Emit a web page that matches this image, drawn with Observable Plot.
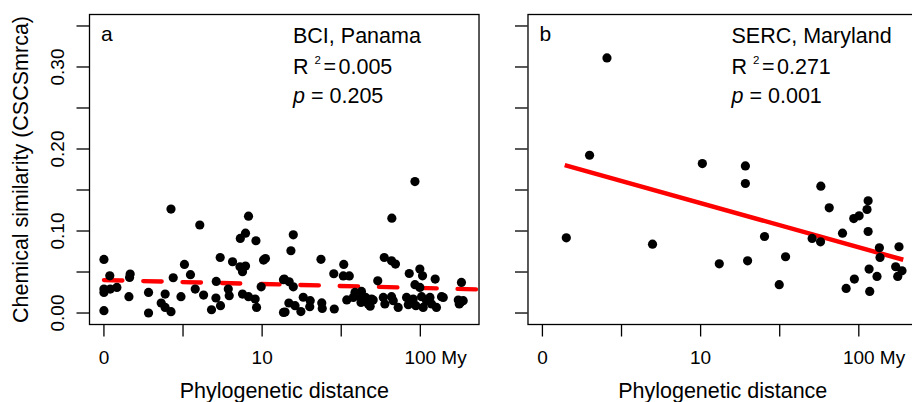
<!DOCTYPE html>
<html><head><meta charset="utf-8">
<script src="https://cdn.jsdelivr.net/npm/d3@7"></script>
<script src="https://cdn.jsdelivr.net/npm/@observablehq/plot@0.6"></script>
<style>
html,body{margin:0;padding:0;background:#fff;overflow:hidden;}
#chart{width:912px;height:402px;overflow:hidden;}
#chart svg{max-width:none !important;}
</style></head><body><div id="chart"></div>
<script>
// Panels
const panels = ["a", "b"];
const siteNames = ["BCI, Panama", "SERC, Maryland"];
const r2Labels = ["R\u00B2 = 0.005", "R\u00B2 = 0.271"];
const pLabels = ["= 0.205", "= 0.001"];

// Phylogenetic distance (log10 scale position) and chemical similarity, BCI
const bciDist = [0,0.037,0,0,0.040,0.082,0.166,0.162,0.158,0,
 0.282,0.282,0.387,0.362,0.387,0.424,0.424,0.438,0.487,0.509,
 0.547,0.577,0.630,0.606,0.710,0.708,0.680,0.737,0.735,0.792,
 0.786,0.813,0.860,0.895,0.876,0.876,0.914,0.956,0.965,0.914,
 0.895,0.862,0.961,0.994,1.021,1.009,1.135,1.135,1.197,1.182,
 1.372,1.516,1.453,1.513,1.551,1.140,1.171,1.197,1.260,1.304,
 1.169,1.208,1.145,1.245,1.301,1.377,1.380,1.456,1.535,1.587,
 1.607,1.576,1.625,1.654,1.671,1.692,1.628,1.731,1.966,1.820,
 1.772,1.818,1.843,1.930,1.997,2.014,2.094,1.966,1.997,2.260,
 1.702,1.766,1.776,1.818,1.829,1.860,1.913,1.924,1.955,1.972,
 2.008,2.018,2.039,2.061,2.071,2.102,2.134,2.145,2.240,2.254,
 2.271,2.246,1.683];
const bciSim = [0.0653,0.0454,0.0251,0.0292,0.0292,0.0312,0.0475,0.0434,0.0199,0.0028,
 0.0251,0.0000,0.0231,0.0122,0.0068,0.0016,0.1267,0.0430,0.0199,0.0592,
 0.0467,0.0292,0.0219,0.1073,0.0385,0.0183,0.0040,0.0089,0.0677,0.0211,
 0.0292,0.0625,0.0564,0.0572,0.0503,0.0231,0.0199,0.0171,0.0068,0.1181,
 0.0974,0.0909,0.0881,0.0320,0.0665,0.0646,0.0406,0.0007,0.0954,0.0759,
 0.0655,0.0592,0.0479,0.0452,0.0452,0.0414,0.0381,0.0320,0.0192,0.0150,
 0.0122,0.0089,0.0012,0.0018,0.0077,0.0123,0.0056,0.0049,0.0160,0.0251,
 0.0211,0.0190,0.0129,0.0190,0.0110,0.0171,0.0263,0.0393,0.1603,0.1157,
 0.0677,0.0637,0.0597,0.0482,0.0536,0.0454,0.0414,0.0345,0.0312,0.0373,
 0.0158,0.0190,0.0110,0.0199,0.0150,0.0068,0.0190,0.0101,0.0171,0.0089,
 0.0199,0.0068,0.0150,0.0190,0.0110,0.0068,0.0199,0.0190,0.0158,0.0129,
 0.0150,0.0110,0.0083];

// SERC
const sercDist = [0.151,0.298,0.408,0.696,1.011,1.118,1.283,1.283,1.297,1.404,
 1.497,1.537,1.705,1.758,1.760,1.813,1.897,1.920,1.972,1.968,
 2.002,2.059,2.052,2.059,2.065,2.069,2.115,2.130,2.134,2.254,
 2.233,2.246,2.273];
const sercSim = [0.0917,0.1924,0.311,0.0840,0.1822,0.0600,0.1794,0.1579,0.0637,0.0933,
 0.0345,0.0686,0.0909,0.0868,0.1547,0.1283,0.0974,0.0300,0.0414,0.1152,
 0.1185,0.1368,0.1262,0.0994,0.0536,0.0263,0.0446,0.0795,0.0677,0.0808,
 0.0564,0.0446,0.0515];

// Regression fits
const fitIntercept = [0.0402, 0.1879];
const fitSlope = [-0.00485, -0.0539];
const fitFrom = [0, 0.141];
const fitTo = [2.371, 2.281];

// Axes
const xDomain = [-0.0912, 2.371];
const yDomain = [-0.014, 0.364];
const xTicks = [0, 0.5, 1, 1.5, 2];
const xLabelPos = [0, 1, 2];
const xLabelText = ["0", "10", "100"];
const xUnit = "My";
const yTicks = [0, 0.05, 0.10, 0.15, 0.20, 0.25, 0.30, 0.35];
const yLabelVals = [0, 0.10, 0.20, 0.30];
const xTitle = "Phylogenetic distance";
const yTitle = "Chemical similarity (CSCSmrca)";

const points = [
  ...bciDist.map((d, i) => ({panel: "a", x: d, y: bciSim[i]})),
  ...sercDist.map((d, i) => ({panel: "b", x: d, y: sercSim[i]}))
];
const fitLines = panels.flatMap((p, i) => [fitFrom[i], fitTo[i]].map(x => ({panel: p, x, y: fitIntercept[i] + fitSlope[i] * x})));
const panelInfo = panels.map((p, i) => ({panel: p, site: siteNames[i], r2: r2Labels[i], pv: pLabels[i]}));
const xLabels = xLabelPos.map((v, i) => ({v, t: xLabelText[i]}));

const FONT = "'Liberation Sans', Arial, Helvetica, sans-serif";
const chart = Plot.plot({
  width: 917, height: 402,
  marginLeft: 89, marginRight: 0, marginTop: 14, marginBottom: 78,
  style: {fontFamily: FONT, background: "white", color: "black", maxWidth: "none", overflow: "visible"},
  fx: {domain: panels, paddingInner: 0.1117, paddingOuter: 0, round: false, axis: null, label: null},
  x: {domain: xDomain, axis: null},
  y: {domain: yDomain, axis: null},
  marks: [
    Plot.line(fitLines.filter(d => d.panel === "a"), {fx: "panel", x: "x", y: "y", stroke: "#ff0000", strokeWidth: 4.3, strokeDasharray: "18.5,20.8", strokeLinecap: "round", clip: true}),
    Plot.line(fitLines.filter(d => d.panel === "b"), {fx: "panel", x: "x", y: "y", stroke: "#ff0000", strokeWidth: 4.5, strokeLinecap: "butt", clip: true}),
    Plot.dot(points, {fx: "panel", x: "x", y: "y", r: 4.6, fill: "black", stroke: "none"}),
    Plot.frame({stroke: "black", strokeWidth: 1.3}),
    Plot.axisY({ticks: yTicks, tickSize: 12.5, tickFormat: () => "", label: null, anchor: "left", facetAnchor: null, strokeWidth: 1.3}),
    Plot.axisX({ticks: xTicks, tickSize: 12.5, tickFormat: () => "", label: null, anchor: "bottom", facetAnchor: null, strokeWidth: 1.3}),
    Plot.text(xLabels, {x: "v", text: "t", frameAnchor: "bottom", lineAnchor: "bottom", dy: 39, fontSize: 19}),
    Plot.text([xUnit], {x: () => xLabelPos[2], text: d => d, frameAnchor: "bottom", lineAnchor: "bottom", textAnchor: "start", dx: 21, dy: 39, fontSize: 19}),
    Plot.text(yLabelVals, {fx: () => "a", y: d => d, text: d => d.toFixed(2), frameAnchor: "left", rotate: -90, textAnchor: "middle", lineAnchor: "middle", dx: -31.5, fontSize: 19}),
    Plot.text([yTitle], {fx: () => "a", text: d => d, frameAnchor: "left", rotate: -90, textAnchor: "middle", lineAnchor: "bottom", dx: -61.5, fontSize: 21.5}),
    Plot.text([xTitle], {text: d => d, frameAnchor: "bottom", lineAnchor: "bottom", dy: 73, fontSize: 21.5}),
    Plot.text(panelInfo, {fx: "panel", text: "panel", frameAnchor: "top-left", textAnchor: "start", lineAnchor: "bottom", dx: 11.5, dy: 26, fontSize: 21}),
    Plot.text(panelInfo, {fx: "panel", text: "site", frameAnchor: "top-left", textAnchor: "start", lineAnchor: "bottom", dx: 203.5, dy: 28, fontSize: 21.5}),
    Plot.text(panelInfo, {fx: "panel", text: "r2", frameAnchor: "top-left", textAnchor: "start", lineAnchor: "bottom", dx: 203.5, dy: 59.7, fontSize: 21.5}),
    Plot.text(panelInfo, {fx: "panel", text: () => "p", frameAnchor: "top-left", textAnchor: "start", lineAnchor: "bottom", dx: 203.5, dy: 88.8, fontSize: 21.5, fontStyle: "italic"}),
    Plot.text(panelInfo, {fx: "panel", text: "pv", frameAnchor: "top-left", textAnchor: "start", lineAnchor: "bottom", dx: 221.5, dy: 88.8, fontSize: 21.5})
  ]
});
// Render R^2 with a raised superscript, as in the original
d3.select(chart).selectAll("text")
  .filter(function () { return this.textContent.startsWith("R\u00B2"); })
  .each(function () {
    const val = this.textContent.split("= ")[1];
    const t = d3.select(this);
    t.text(null);
    t.append("tspan").text("R");
    t.append("tspan").attr("dx", 6).attr("dy", -10).attr("font-size", 11.5).text("2");
    t.append("tspan").attr("dx", 2.5).attr("dy", 10).attr("font-size", 21.5).text("=");
    t.append("tspan").attr("dx", 2.5).text(val);
  });
document.getElementById("chart").appendChild(chart);
</script>
</body></html>
